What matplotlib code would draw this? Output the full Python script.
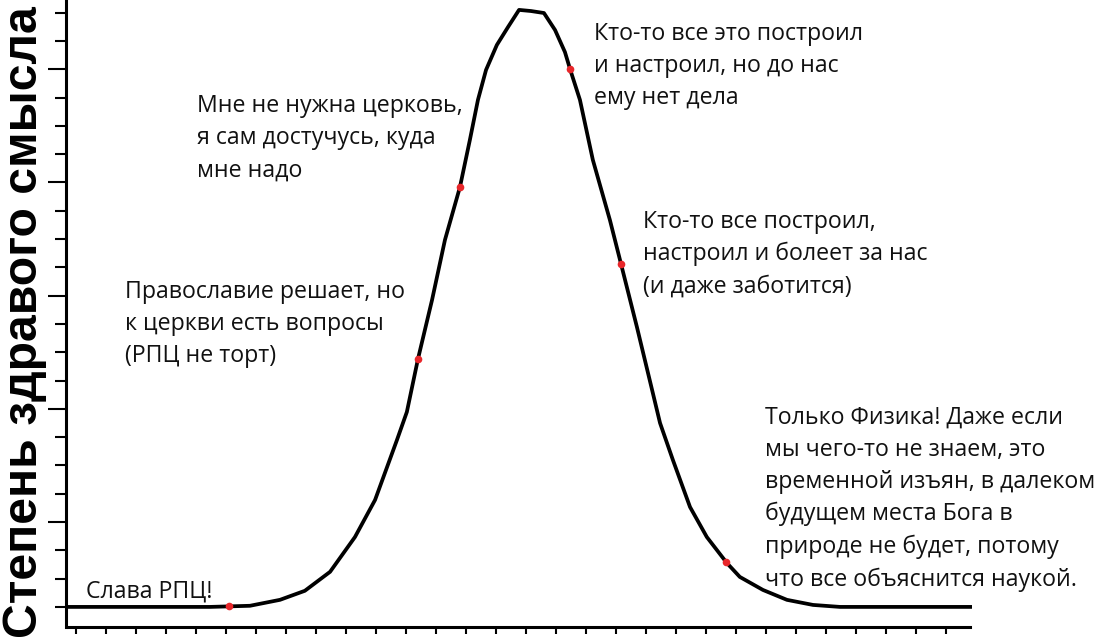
import matplotlib
matplotlib.use("Agg")
import matplotlib.pyplot as plt
from matplotlib import font_manager
from matplotlib.ticker import FixedLocator, NullFormatter

# curve: x in x-tick steps, y in y-tick steps
curve_x = [-0.33, 4.47, 5.8, 6.8, 7.63, 8.47, 9.3, 9.97, 10.7, 11.03, 11.4, 11.87,
           12.3, 12.8, 13.13, 13.4, 13.67, 14.03, 14.4, 14.77, 15.17, 15.6, 15.97,
           16.3, 16.47, 16.8, 17.23, 17.8, 18.17, 18.7, 19.23, 19.47, 19.9, 20.47,
           21.03, 21.7, 22.13, 22.9, 23.7, 24.57, 25.47, 29.87]
curve_y = [0.0, 0.0, 0.04, 0.25, 0.57, 1.24, 2.47, 3.78, 5.9, 6.89, 8.76, 10.85,
           12.97, 14.84, 16.5, 17.92, 18.98, 19.86, 20.49, 21.1, 21.06, 20.99, 20.39,
           19.61, 19.01, 17.92, 15.8, 13.67, 12.12, 9.89, 7.56, 6.5, 5.19, 3.53,
           2.47, 1.55, 1.06, 0.6, 0.25, 0.07, 0.0, 0.0]

dots_x = [5.1, 11.4, 12.8, 16.47, 18.17, 21.67]
dots_y = [0.04, 8.76, 14.84, 19.01, 12.12, 1.59]

notes = [
    "Слава РПЦ!",
    "Православие решает, но\nк церкви есть вопросы\n(РПЦ не торт)",
    "Мне не нужна церковь,\nя сам достучусь, куда\nмне надо",
    "Кто-то все это построил\nи настроил, но до нас\nему нет дела",
    "Кто-то все построил,\nнастроил и болеет за нас\n(и даже заботится)",
    "Только Физика! Даже если\nмы чего-то не знаем, это\nвременной изъян, в далеком\n"
    "будущем места Бога в\nприроде не будет, потому\nчто все объяснится наукой.",
]
note_x = [0.33, 1.64, 4.05, 17.26, 18.9, 22.98]
note_y = [0.53, 10.0, 16.57, 19.12, 12.47, 3.83]

ylabel = "Степень здравого смысла"

x_ticks = list(range(30))
y_major = [3, 7, 11, 15, 19]
y_minor = [0, 1, 2, 4, 5, 6, 8, 9, 10, 12, 13, 14, 16, 17, 18, 20, 21]

installed = {f.name for f in font_manager.fontManager.ttflist}
label_font = "Liberation Sans Narrow" if "Liberation Sans Narrow" in installed else "Liberation Sans"
note_font = ["Open Sans", "DejaVu Sans"]

fig = plt.figure(figsize=(11, 6.44), dpi=100)
ax = fig.add_axes([66 / 1100, 17 / 644, 906 / 1100, 627 / 644])

ax.plot(curve_x, curve_y, color="black", lw=2.7, solid_joinstyle="round", zorder=2)
ax.plot(dots_x, dots_y, "o", color="#e8262a", ms=5.5, mec="none", zorder=3)

ax.set_xlim(-0.333, 29.87)
ax.set_ylim(-0.71, 21.45)

for side in ("top", "right"):
    ax.spines[side].set_visible(False)
for side in ("left", "bottom"):
    ax.spines[side].set_linewidth(2.2)
ax.spines["bottom"].set_bounds(-0.27, 29.8)

ax.xaxis.set_major_locator(FixedLocator(x_ticks))
ax.yaxis.set_major_locator(FixedLocator(y_major))
ax.yaxis.set_minor_locator(FixedLocator(y_minor))
ax.xaxis.set_major_formatter(NullFormatter())
ax.yaxis.set_major_formatter(NullFormatter())
ax.tick_params(axis="x", which="major", direction="out", length=5, width=1.5)
ax.tick_params(axis="y", which="major", direction="out", length=13, width=1.5)
ax.tick_params(axis="y", which="minor", direction="out", length=8, width=1.5)

texts = []
for txt, x, y in zip(notes, note_x, note_y):
    texts.append(ax.text(x, y, txt, ha="left", va="center", fontsize=15,
                         family=note_font, linespacing=1.45, color="#111111"))

lab = fig.text(25 / 1100, 322 / 644, ylabel, rotation=90, ha="center", va="center",
               fontsize=40, fontweight="bold", family=label_font, color="black")

# fit text sizes to the widths measured on the picture
fig.canvas.draw()
r = fig.canvas.get_renderer()
lab.set_fontsize(40 * 630 / lab.get_window_extent(r).height)
scale = 268 / texts[3].get_window_extent(r).width
for t in texts:
    t.set_fontsize(15 * scale)

fig.savefig("out.png", dpi=100)
